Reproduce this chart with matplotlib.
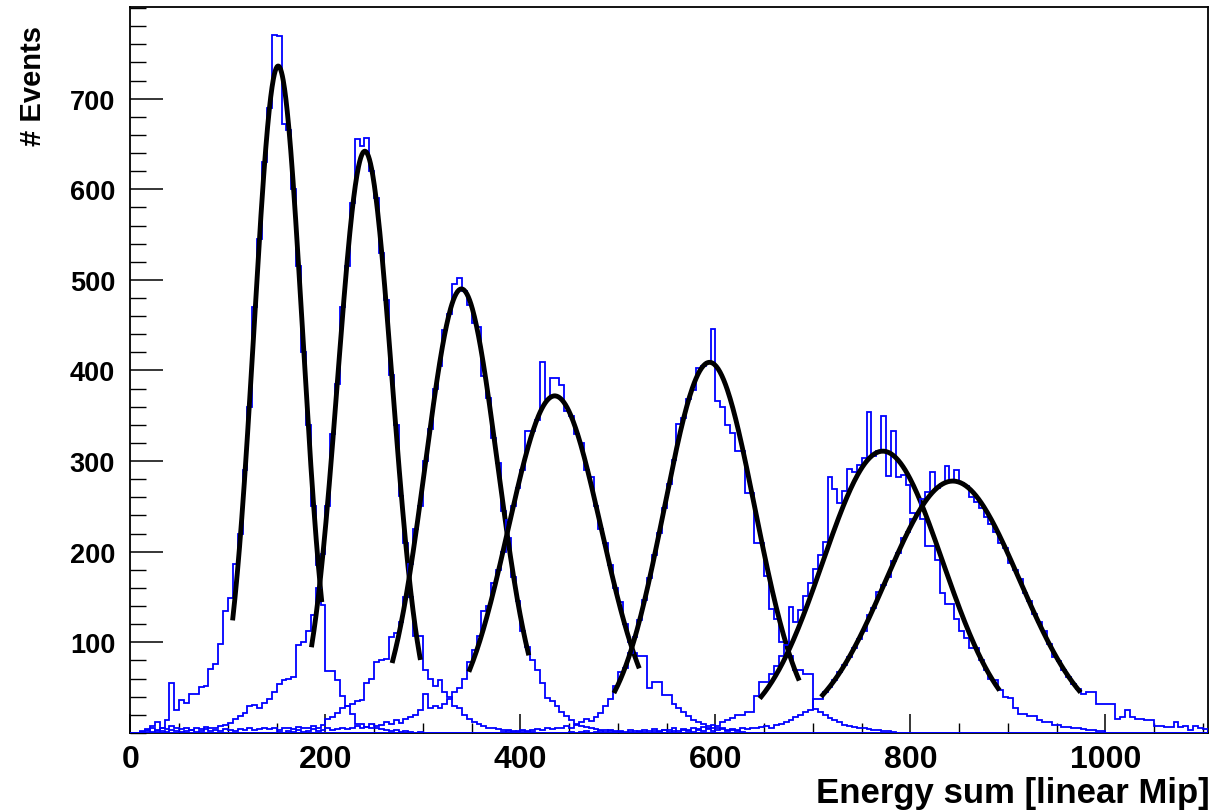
import matplotlib
matplotlib.use("Agg")
import matplotlib.pyplot as plt
from matplotlib.ticker import MultipleLocator
import numpy as np

plt.rcParams['font.family'] = ['Liberation Sans', 'DejaVu Sans']
plt.rcParams['font.weight'] = 'bold'

BIN = 5
XMAX = 1105

# histogram contents (5 unit bins), first bin left edge given in *_start
h1_start = 0
h1 = [0, 0, 1, 4, 8, 12, 6, 14, 55, 25, 36, 33, 43, 43, 51, 52, 71, 76, 98, 135,
      149, 186, 220, 290, 360, 470, 545, 630, 690, 770, 769, 672, 665, 600, 515, 420,
      340, 250, 185, 141, 68, 68, 59, 41, 30, 21, 10, 10, 7, 5, 5, 4, 3, 2, 3, 1, 2, 1, 0, 1]

h2_start = 0
h2 = [0, 0, 2, 3, 5, 2, 6, 4, 8, 5, 4, 6, 3, 5, 4, 7, 5, 6, 8, 9,
      11, 15, 19, 22, 30, 31, 28, 33, 38, 45, 54, 58, 60, 62, 97, 100, 113, 130, 160, 198,
      250, 330, 385, 470, 515, 585, 656, 648, 657, 620, 590, 530, 478, 395, 340, 262, 210, 150, 107, 107,
      70, 60, 52, 58, 45, 40, 30, 28, 20, 15, 12, 10, 8, 6, 5, 4, 3, 3, 2, 1, 2, 1, 1]

h3_start = 0
h3 = [0, 0, 1, 2, 1, 3, 2, 1, 3, 2, 1, 2, 3, 1, 2, 4, 2, 3, 2, 4,
      3, 2, 4, 3, 5, 3, 4, 6, 4, 5, 3, 6, 5, 4, 7, 5, 6, 8, 6, 9,
      15, 18, 22, 28, 30, 32, 35, 36, 55, 60, 78, 81, 82, 106, 110, 122, 150, 186, 225, 250,
      300, 335, 380, 405, 445, 462, 496, 502, 488, 472, 452, 448, 394, 370, 325, 298, 245, 215, 172, 146,
      112, 95, 80, 70, 55, 39, 35, 30, 23, 19, 14, 10, 8, 7, 5, 4, 3, 3, 2, 2, 1]

h4_start = 150
h4 = [1, 0, 2, 1, 3, 1, 2, 4, 2, 3, 5, 3, 4, 6, 4, 5, 8, 6, 7, 10,
      8, 9, 12, 10, 14, 11, 15, 18, 20, 25, 43, 28, 30, 28, 32, 38, 45, 50, 60, 78,
      92, 107, 135, 140, 166, 180, 200, 235, 250, 270, 290, 333, 333, 345, 409, 368, 392, 392, 384, 355,
      350, 330, 320, 290, 282, 250, 225, 210, 185, 160, 145, 120, 100, 88, 85, 85, 50, 56, 56, 42,
      42, 32, 28, 23, 19, 14, 12, 10, 8, 6, 5, 4, 3, 3, 2, 1]

h5_start = 380
h5 = [1, 2, 1, 2, 3, 2, 3, 4, 3, 5, 4, 6, 5, 8, 6, 9, 12, 15, 13, 18,
      22, 30, 37, 52, 67, 72, 88, 106, 125, 147, 171, 196, 221, 248, 275, 301, 341, 348, 368, 378,
      403, 405, 409, 446, 366, 360, 340, 331, 311, 311, 265, 265, 210, 210, 173, 137, 126, 100, 100, 85,
      70, 70, 65, 65, 26, 23, 20, 16, 14, 12, 9, 8, 7, 6, 5, 4, 3, 3, 2, 2, 1]

h6_start = 450
h6 = [1, 0, 1, 2, 0, 1, 2, 1, 3, 1, 2, 1, 3, 2, 1, 3, 2, 4, 2, 3,
      3, 5, 2, 4, 3, 6, 4, 7, 5, 9, 8, 12, 14, 17, 20, 20, 23, 23, 41, 56,
      56, 65, 74, 85, 97, 139, 122, 136, 151, 165, 181, 196, 211, 282, 269, 254, 267, 291, 288, 296,
      303, 354, 306, 311, 350, 284, 333, 282, 285, 274, 243, 243, 236, 206, 206, 191, 155, 142, 142, 126,
      113, 105, 94, 94, 81, 70, 60, 59, 47, 40, 39, 28, 21, 21, 19, 19, 14, 12, 12, 9,
      9, 7, 7, 6, 6, 4, 3, 3, 2, 2]

h7_start = 500
h7 = [1, 0, 1, 0, 2, 1, 0, 2, 1, 3, 1, 2, 0, 3, 2, 1, 3, 2, 4, 2,
      3, 5, 2, 4, 3, 5, 4, 6, 5, 7, 8, 6, 9, 10, 12, 14, 18, 20, 23, 25,
      37, 37, 45, 51, 59, 67, 75, 84, 94, 104, 112, 130, 138, 156, 163, 172, 190, 199, 215, 222,
      236, 242, 258, 266, 288, 270, 275, 295, 278, 290, 276, 272, 260, 255, 248, 238, 231, 222, 210, 204,
      188, 180, 170, 155, 146, 131, 122, 112, 98, 84, 79, 70, 62, 54, 48, 43, 45, 45, 32, 32,
      32, 32, 15, 18, 25, 18, 15, 15, 14, 14, 8, 8, 7, 7, 12, 7, 8, 3, 8, 5, 4]

# gaussian fits: amplitude, mean, sigma and fitted range
fit_amp = [736, 642, 490, 372, 409, 311, 278]
fit_mean = [151.5, 240.4, 339.5, 435.2, 594.0, 771.7, 843.5]
fit_sigma = [24.8, 28.0, 37.0, 47.7, 46.5, 61.6, 68.6]
fit_lo = [105, 186, 269, 348, 497, 647, 710]
fit_hi = [196, 297, 408, 521, 685, 890, 973]


def full_hist(start, counts):
    n = int(round(XMAX / BIN))
    values = np.zeros(n)
    i0 = int(start / BIN)
    values[i0:i0 + len(counts)] = counts
    return values


fig = plt.figure(figsize=(12.16, 8.12), dpi=100)
ax = fig.add_axes([0.1073, 0.0961, 0.9932 - 0.1073, 0.990 - 0.0961])

edges = np.arange(0, XMAX + BIN, BIN)
hists = [(h1_start, h1), (h2_start, h2), (h3_start, h3), (h4_start, h4),
         (h5_start, h5), (h6_start, h6), (h7_start, h7)]

for i, (start, counts) in enumerate(hists):
    ax.stairs(full_hist(start, counts), edges, color='#0000ff', lw=1.3,
              baseline=0, zorder=2 + 2 * i)
    x = np.linspace(fit_lo[i], fit_hi[i], 200)
    y = fit_amp[i] * np.exp(-0.5 * ((x - fit_mean[i]) / fit_sigma[i]) ** 2)
    ax.plot(x, y, color='black', lw=3.5, zorder=3 + 2 * i)

ax.set_xlim(0, XMAX)
ax.set_ylim(0, 801)

ax.xaxis.set_major_locator(MultipleLocator(200))
ax.xaxis.set_minor_locator(MultipleLocator(50))
ax.yaxis.set_major_locator(MultipleLocator(100))
ax.yaxis.set_minor_locator(MultipleLocator(20))
ax.tick_params(axis='x', which='major', direction='in', length=14, width=1.1, pad=8, labelsize=23)
ax.tick_params(axis='x', which='minor', direction='in', length=7, width=1.0)
ax.tick_params(axis='y', which='major', direction='in', length=24, width=1.1, pad=11, labelsize=19.5)
ax.tick_params(axis='y', which='minor', direction='in', length=11.5, width=1.0)
for lab in ax.get_xticklabels() + ax.get_yticklabels():
    lab.set_fontweight('bold')
ax.set_yticks([100, 200, 300, 400, 500, 600, 700])
for sp in ax.spines.values():
    sp.set_linewidth(1.3)

fig.text(1210 / 1216, 2 / 812, 'Energy sum [linear Mip]', ha='right', va='bottom',
         fontsize=25, fontweight='bold')
fig.text(33 / 1216, 1 - 26 / 812, '# Events', ha='center', va='top', rotation=90,
         fontsize=21, fontweight='bold')

fig.savefig('out.png', dpi=100)
